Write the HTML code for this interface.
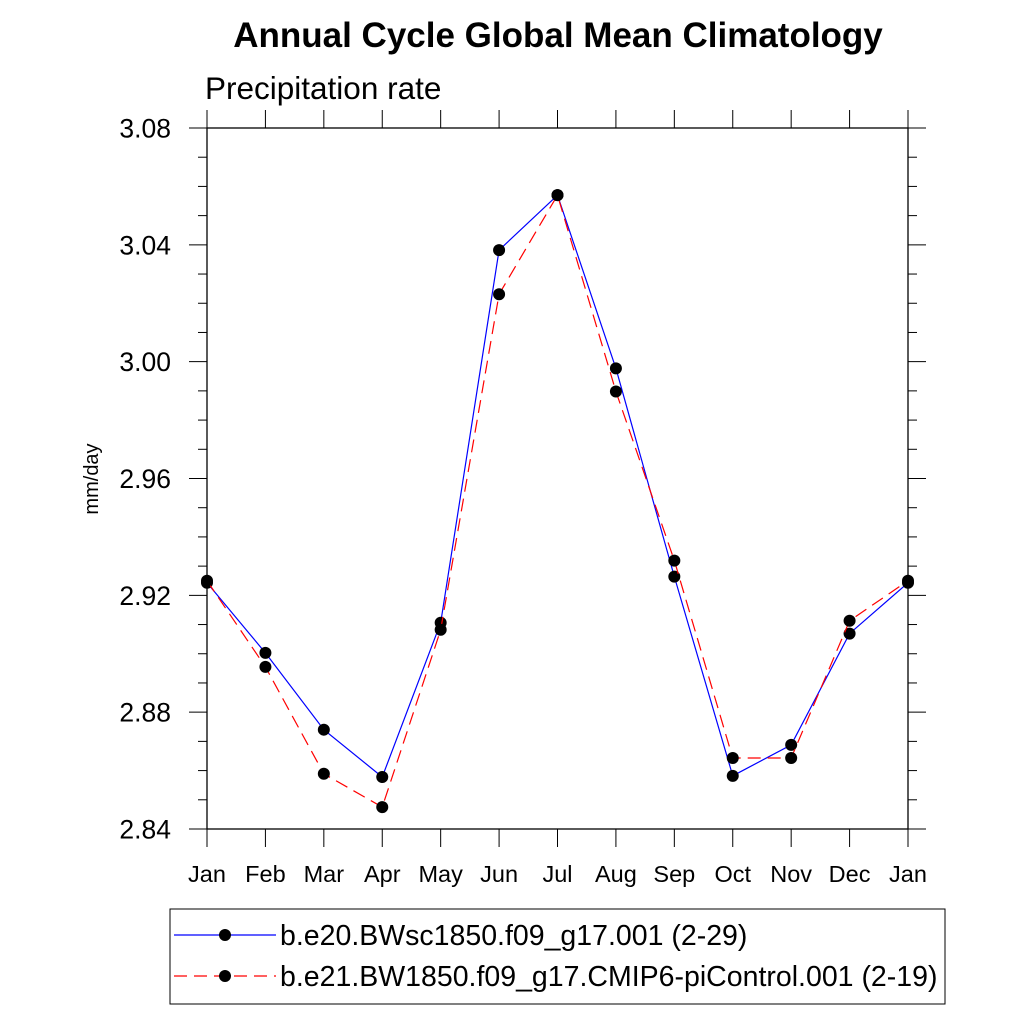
<!DOCTYPE html>
<html><head><meta charset="utf-8"><style>
body{margin:0;background:#fff}
svg text{font-family:"Liberation Sans",sans-serif}
</style></head><body>
<svg id="c" width="1024" height="1024" xmlns="http://www.w3.org/2000/svg">
<text x="558" y="47" font-size="35" font-weight="bold" text-anchor="middle">Annual Cycle Global Mean Climatology</text>
<text x="205" y="99" font-size="31.5">Precipitation rate</text>
<text transform="translate(98,479) rotate(-90)" font-size="20" text-anchor="middle">mm/day</text>
<g id="ax"></g>
<g id="marks"></g>
<rect x="170" y="909" width="775" height="95" fill="none" stroke="#000" stroke-width="1"/>
<line x1="174" y1="935" x2="276" y2="935" stroke="#00f" stroke-width="1.2"/>
<circle cx="225" cy="935" r="6" fill="#000"/>
<text x="280" y="945" font-size="28.5">b.e20.BWsc1850.f09_g17.001 (2-29)</text>
<line x1="174" y1="976" x2="276" y2="976" stroke="#f00" stroke-width="1.2" stroke-dasharray="13,7"/>
<circle cx="225" cy="976" r="6" fill="#000"/>
<text x="280" y="986" font-size="28.5">b.e21.BW1850.f09_g17.CMIP6-piControl.001 (2-19)</text>
</svg>
<script>
const months=["Jan","Feb","Mar","Apr","May","Jun","Jul","Aug","Sep","Oct","Nov","Dec","Jan"];
const blueVals=[2.9243,2.9003,2.874,2.8578,2.9106,3.0382,3.057,2.9977,2.9264,2.8582,2.8688,2.9069,2.9243];
const redVals=[2.925,2.8955,2.8589,2.8475,2.9082,3.0231,3.057,2.9898,2.9319,2.8643,2.8643,2.9113,2.925];
const yTicks=[2.84,2.88,2.92,2.96,3.00,3.04,3.08];
const yTickLabels=["2.84","2.88","2.92","2.96","3.00","3.04","3.08"];
const X0=207,X1=908,Y0=829,Y1=128,YMIN=2.84,YMAX=3.08;
const xs=i=>X0+(X1-X0)*i/(months.length-1);
const ys=v=>Y0-(v-YMIN)/(YMAX-YMIN)*(Y0-Y1);
const NS="http://www.w3.org/2000/svg";
function mk(p,t,a){const e=document.createElementNS(NS,t);for(const k in a)e.setAttribute(k,a[k]);p.appendChild(e);return e;}
const ax=document.getElementById('ax'),mg=document.getElementById('marks');
const fr=mk(ax,'rect',{x:X0,y:Y1,width:X1-X0,height:Y0-Y1,fill:'none',stroke:'#000','stroke-width':1.3});


for(let v=0;v<=24;v++){const y=Y0-(Y0-Y1)*v/24;const maj=v%4==0;const L=maj?18:9;
 const t1=mk(ax,'line',{x1:X0-L,x2:X0,y1:y,y2:y,stroke:'#000','stroke-width':1});
 
 
 const t2=mk(ax,'line',{x1:X1,x2:X1+L,y1:y,y2:y,stroke:'#000','stroke-width':1});
 
 }
yTicks.forEach((v,i)=>{const t=mk(ax,'text',{x:171,y:ys(v)+9.5,'font-size':26.5,'text-anchor':'end'});t.textContent=yTickLabels[i];
 
 });
months.forEach((m,i)=>{const x=xs(i);
 const a=mk(ax,'line',{x1:x,x2:x,y1:Y0,y2:Y0+18,stroke:'#000','stroke-width':1});
 
 
 const b=mk(ax,'line',{x1:x,x2:x,y1:Y1-18,y2:Y1,stroke:'#000','stroke-width':1});
 
 
 const t=mk(ax,'text',{x:x,y:882,'font-size':23.5,'text-anchor':'middle'});t.textContent=m;
 
 });
function series(vals,col,dash,name){
 const pl=mk(mg,'polyline',{points:vals.map((v,i)=>xs(i)+','+ys(v)).join(' '),fill:'none',stroke:col,'stroke-width':1.2,'stroke-dasharray':dash});
 
 
 vals.forEach((v,i)=>{const c=mk(mg,'circle',{cx:xs(i),cy:ys(v),r:6,fill:'#000'});
 
 });}
series(blueVals,'#00f','none','blue-series');
series(redVals,'#f00','13,7','red-series');
</script>
</body></html>
